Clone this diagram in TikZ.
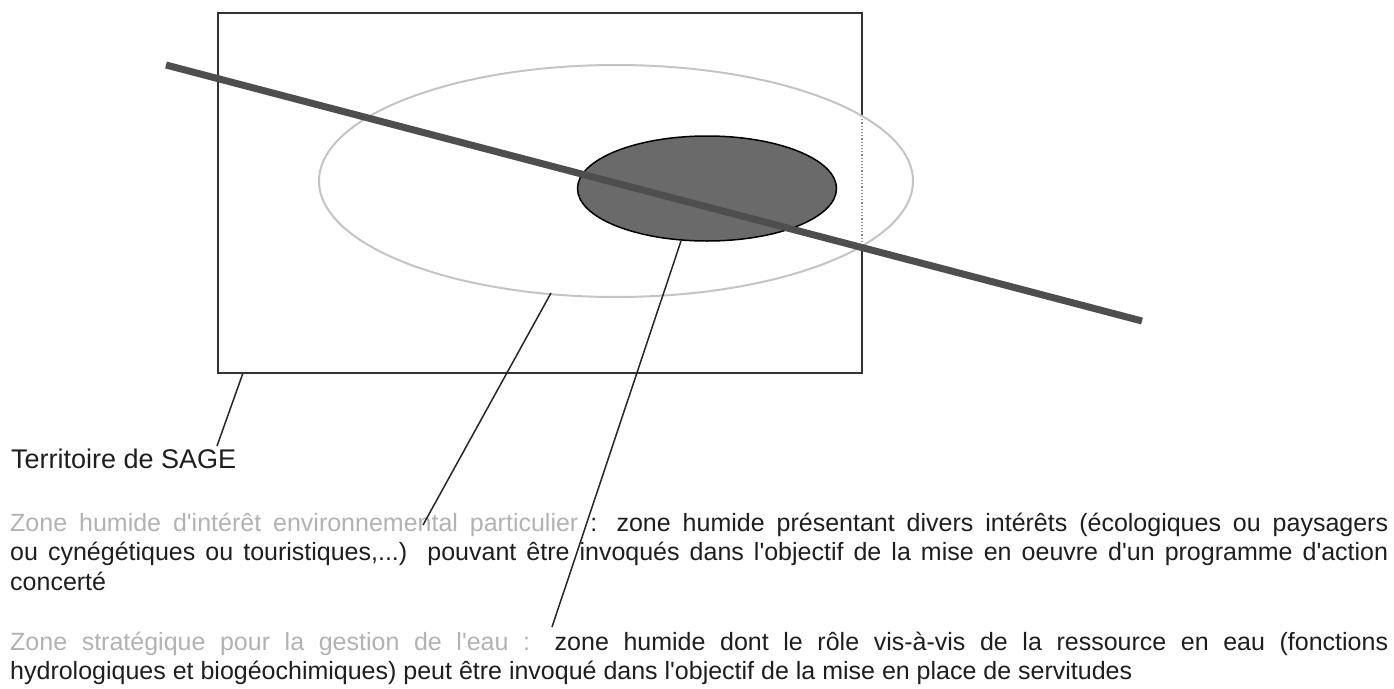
\documentclass[tikz,border=0pt]{standalone}
\usepackage{fontspec}
\setmainfont{Liberation Sans}
\definecolor{lightzone}{HTML}{C4C4C4}
\definecolor{darkzone}{HTML}{6A6A6A}
\definecolor{riverline}{HTML}{4E4E4E}
\definecolor{paletext}{HTML}{B2B2B2}
\definecolor{inktext}{HTML}{1E1E1E}
\newcommand{\apo}{\textquotesingle}
\begin{document}
\begin{tikzpicture}[x=1pt,y=-1pt,
  leader/.style={line width=1.5pt,black!85},
  para/.style={anchor=base west,inner sep=0pt,text=inktext,font=\fontsize{25}{29.5}\selectfont}]
  \useasboundingbox (0,0) rectangle (1394,688);
  % Territory boundary (dotted where it runs inside the wetland)
  \draw[line width=1.5pt,black!80] (862,116) -- (862,13) -- (218,13) -- (218,373) -- (862,373) -- (862,246);
  \draw[line width=1.2pt,black!45,dotted] (862,116) -- (862,246);
  % Wetlands
  \draw[lightzone,line width=2pt] (616,181) ellipse (297pt and 116pt);
  \filldraw[fill=darkzone,draw=black,line width=1.5pt] (707,188.5) ellipse (129.5pt and 52.5pt);
  % River
  \draw[riverline,line width=7pt] (166,65) -- (1142,321);
  % Labels
  \node[para,font=\fontsize{27}{32}\selectfont] (sage) at (11,468) {Territoire de SAGE};
  \node[para] (zhiep) at (10,531) {\parbox[t]{1378pt}{\sloppy\hyphenpenalty=10000\exhyphenpenalty=10000
    \leavevmode{\color{paletext}Zone humide d\apo intérêt environnemental particulier} : zone humide présentant divers intérêts (écologiques ou paysagers\linebreak
    ou cynégétiques ou touristiques,...)\ \ pouvant être invoqués dans l\apo objectif de la mise en oeuvre d\apo un programme d\apo action\linebreak
    concerté}};
  \node[para] (zsge) at (10,650) {\parbox[t]{1378pt}{\sloppy\hyphenpenalty=10000\exhyphenpenalty=10000
    \leavevmode{\color{paletext}Zone stratégique pour la gestion de l\apo eau :} zone humide dont le rôle vis-à-vis de la ressource en eau (fonctions\linebreak
    hydrologiques et biogéochimiques) peut être invoqué dans l\apo objectif de la mise en place de servitudes}};
  % Leader lines
  \coordinate (sagetip) at (243,373);
  \coordinate (sageend) at (217,446);
  \coordinate (zhieptip) at (551,293);
  \coordinate (zhiepend) at (423,525);
  \coordinate (zsgetip) at (681,241);
  \coordinate (zsgeend) at (552,627);
  \draw[leader] (sagetip) -- (sageend);
  \draw[leader] (zhieptip) -- (zhiepend);
  \draw[leader] (zsgetip) -- (zsgeend);
\end{tikzpicture}
\end{document}
